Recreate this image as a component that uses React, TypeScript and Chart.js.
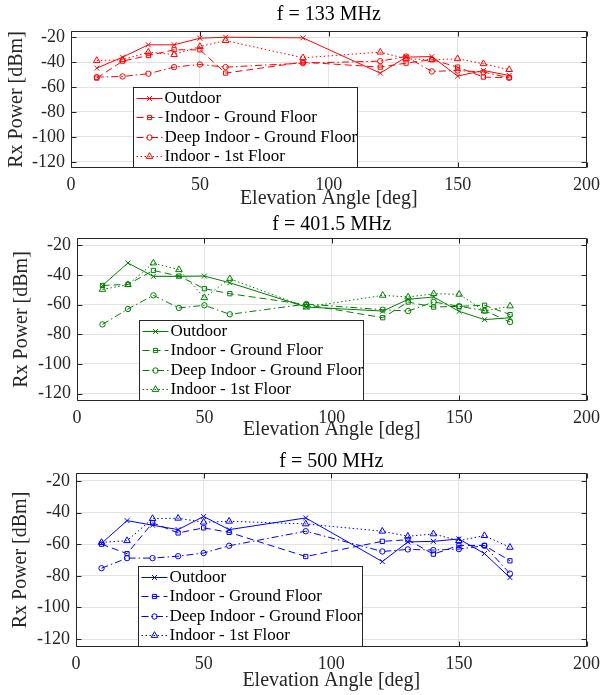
import React, { useEffect, useRef } from 'react';
import { Chart, registerables } from 'chart.js';

Chart.register(...registerables);

// ---------------- data ----------------
const angles = [10, 20, 30, 40, 50, 60, 90, 120, 130, 140, 150, 160, 170];
const xTicks = [0, 50, 100, 150, 200];
const yTicks = [-120, -100, -80, -60, -40, -20];
const seriesNames = ['Outdoor', 'Indoor - Ground Floor', 'Deep Indoor - Ground Floor', 'Indoor - 1st Floor'];
const panelTitles = ['f = 133 MHz', 'f = 401.5 MHz', 'f = 500 MHz'];

const outdoor133 = [-44.8, -36, -26.1, -26.1, -20.8, -20, -20.5, -48.8, -36, -35.5, -51.2, -46.7, -50.7];
const indoorGF133 = [-52.8, -39.2, -34.7, -30.1, -30.1, -48.8, -40, -44, -40.8, -38, -44, -52, -52.5];
const deepIndoor133 = [-52, -51.5, -49.3, -44, -41.9, -44, -40.8, -39.2, -35.5, -47.5, -46.7, -48, -52.5];
const firstFloor133 = [-38.7, -38.1, -32, -33.9, -27.5, -22.7, -36.5, -32, -37.3, -38.1, -37.3, -41.3, -46];

const outdoor401 = [-47, -31.9, -40.9, -40.9, -40.7, -45.2, -61.6, -64.3, -56.4, -54.8, -64.5, -70.1, -68.8];
const indoorGF401 = [-47, -46.3, -36.9, -40.7, -49.2, -52.6, -60, -68.8, -58.2, -61.6, -61.1, -60.4, -66.7];
const deepIndoor401 = [-73.3, -62.9, -53.7, -62.2, -60.4, -66.5, -59.6, -63.4, -64.3, -58.2, -61.1, -64, -71.7];
const firstFloor401 = [-49.7, -46.5, -31.9, -36.4, -55.3, -42.5, -61.6, -53.7, -54.8, -52.6, -53, -64.3, -60.9];

const outdoor500 = [-59.5, -45.1, -48, -50.8, -42.5, -50.8, -43.4, -71, -58.6, -58.2, -56.7, -65.9, -81.1];
const indoorGF500 = [-60, -66, -46.5, -52.9, -49.7, -52.5, -67.8, -58.2, -57.2, -66.3, -60.8, -60.8, -70.5];
const deepIndoor500 = [-75.2, -68.8, -68.8, -67.6, -65.6, -61, -51.8, -64.6, -63.3, -63.7, -63.1, -61, -78.6];
const firstFloor500 = [-58.9, -57.8, -43.8, -43.6, -46.1, -45.5, -47.2, -51.8, -55, -53.5, -57.8, -54.6, -62];

// ---------------- styles ----------------
const FONT = "'Liberation Serif', 'Times New Roman', serif";
const AXIS_COLOR = '#262626';
const GRID_COLOR = '#e3e3e3';
const lineDashes: number[][] = [[], [7, 4], [7, 3, 1.5, 3], [1.5, 2.5]];
const markerStyles = ['crossRot', 'rect', 'circle', 'triangle'];
const markerRadii = [3.5, 3, 2.7, 3.8];

type PanelLayout = {
  top: number; height: number; left: number; right: number; areaTop: number; areaBottom: number;
  titlePadTop: number; yTitlePad: number;
};

const panels = [
  { color: '#ff0000', series: [outdoor133, indoorGF133, deepIndoor133, firstFloor133],
    layout: { top: 0, height: 211, left: 71, right: 587, areaTop: 31, areaBottom: 168, titlePadTop: 5, yTitlePad: 5 } },
  { color: '#008000', series: [outdoor401, indoorGF401, deepIndoor401, firstFloor401],
    layout: { top: 211, height: 231, left: 77, right: 590, areaTop: 27, areaBottom: 190, titlePadTop: 4, yTitlePad: 9.5 } },
  { color: '#0000ff', series: [outdoor500, indoorGF500, deepIndoor500, firstFloor500],
    layout: { top: 445, height: 248, left: 76, right: 590, areaTop: 28, areaBottom: 202, titlePadTop: 7, yTitlePad: 9 } },
];

function drawMarker(ctx: CanvasRenderingContext2D, style: string, x: number, y: number, r: number) {
  ctx.beginPath();
  if (style === 'crossRot') {
    const o = r * Math.SQRT1_2;
    ctx.moveTo(x - o, y - o); ctx.lineTo(x + o, y + o);
    ctx.moveTo(x - o, y + o); ctx.lineTo(x + o, y - o);
  } else if (style === 'rect') {
    const s = r * Math.SQRT1_2;
    ctx.rect(x - s, y - s, 2 * s, 2 * s);
  } else if (style === 'circle') {
    ctx.arc(x, y, r, 0, Math.PI * 2);
  } else if (style === 'triangle') {
    for (let k = 0; k < 3; k++) {
      const a = (k * 2 * Math.PI) / 3;
      const px = x + Math.sin(a) * r;
      const py = y - Math.cos(a) * r;
      if (k === 0) ctx.moveTo(px, py); else ctx.lineTo(px, py);
    }
    ctx.closePath();
  }
  ctx.stroke();
}

const frameAndLegend = {
  id: 'frameAndLegend',
  beforeDatasetsDraw(chart: any) {
    const { ctx, chartArea: a, scales } = chart;
    ctx.save();
    ctx.strokeStyle = AXIS_COLOR;
    ctx.lineWidth = 1;
    ctx.setLineDash([]);
    const L = Math.round(a.left) + 0.5, R = Math.round(a.right) - 0.5;
    const T = Math.round(a.top) + 0.5, B = Math.round(a.bottom) - 0.5;
    ctx.beginPath();
    ctx.rect(L, T, R - L, B - T);
    const tl = 5;
    xTicks.forEach((v) => {
      const px = Math.round(scales.x.getPixelForValue(v)) + 0.5;
      ctx.moveTo(px, B); ctx.lineTo(px, B - tl);
      ctx.moveTo(px, T); ctx.lineTo(px, T + tl);
    });
    yTicks.forEach((v) => {
      const py = Math.round(scales.y.getPixelForValue(v)) + 0.5;
      ctx.moveTo(L, py); ctx.lineTo(L + tl, py);
      ctx.moveTo(R, py); ctx.lineTo(R - tl, py);
    });
    ctx.stroke();
    ctx.restore();
  },
  afterDatasetsDraw(chart: any) {
    const { ctx, chartArea: a } = chart;
    const w = 224, h = 80;
    const x0 = Math.round(a.left + 62) + 0.5;
    const y0 = Math.round(a.bottom - 1 - h) + 0.5;
    ctx.save();
    ctx.fillStyle = '#ffffff';
    ctx.fillRect(x0, y0, w, h);
    ctx.strokeStyle = AXIS_COLOR;
    ctx.lineWidth = 1;
    ctx.setLineDash([]);
    ctx.strokeRect(x0, y0, w, h);
    chart.data.datasets.forEach((ds: any, i: number) => {
      const ry = Math.round(y0 + 10.5 + i * 19.3) + 0.5;
      ctx.strokeStyle = ds.borderColor;
      ctx.lineWidth = 1;
      ctx.setLineDash(ds.borderDash || []);
      ctx.beginPath();
      ctx.moveTo(x0 + 3, ry);
      ctx.lineTo(x0 + 29, ry);
      ctx.stroke();
      ctx.setLineDash([]);
      drawMarker(ctx, ds.pointStyle, x0 + 16, ry, ds.pointRadius);
      ctx.fillStyle = '#000000';
      ctx.font = `17px ${FONT}`;
      ctx.textBaseline = 'middle';
      ctx.textAlign = 'left';
      ctx.fillText(ds.label, x0 + 31, ry);
    });
    ctx.restore();
  },
};

function Panel({ index }: { index: number }) {
  const ref = useRef<HTMLCanvasElement>(null);
  const p = panels[index];
  const lay: PanelLayout = p.layout;
  useEffect(() => {
    if (!ref.current) return;
    const datasets = p.series.map((vals, i) => ({
      label: seriesNames[i],
      data: angles.map((a, k) => ({ x: a, y: vals[k] })),
      borderColor: p.color,
      backgroundColor: 'rgba(0,0,0,0)',
      borderWidth: 1,
      borderDash: lineDashes[i],
      pointStyle: markerStyles[i],
      pointRadius: markerRadii[i],
      pointHoverRadius: markerRadii[i],
      pointBorderWidth: 1,
      pointBorderColor: p.color,
      pointBackgroundColor: 'rgba(0,0,0,0)',
      tension: 0,
      fill: false,
    }));
    const chart = new Chart(ref.current, {
      type: 'line',
      data: { datasets },
      plugins: [frameAndLegend],
      options: {
        animation: false,
        responsive: false,
        devicePixelRatio: 1,
        events: [],
        layout: { padding: { left: 0, top: 0, bottom: 0, right: 606 - lay.right } },
        plugins: {
          legend: { display: false },
          tooltip: { enabled: false },
          title: {
            display: true,
            text: panelTitles[index],
            fullSize: false,
            color: '#000000',
            font: { family: FONT, size: 20, weight: 'normal', lineHeight: 1 },
            padding: { top: lay.titlePadTop, bottom: lay.areaTop - 20 - lay.titlePadTop },
          },
        },
        scales: {
          x: {
            type: 'linear',
            min: 0,
            max: 200,
            afterBuildTicks: (s: any) => { s.ticks = xTicks.map((v) => ({ value: v })); },
            afterFit: (s: any) => { s.height = lay.height - lay.areaBottom; },
            ticks: { color: AXIS_COLOR, padding: 6, maxRotation: 0, font: { family: FONT, size: 18 } },
            grid: { color: GRID_COLOR, lineWidth: 1, drawTicks: false },
            border: { display: false },
            title: {
              display: true,
              text: 'Elevation Angle [deg]',
              color: AXIS_COLOR,
              padding: { top: 0, bottom: 0 },
              font: { family: FONT, size: 20 },
            },
          },
          y: {
            type: 'linear',
            min: -125,
            max: -15,
            afterBuildTicks: (s: any) => { s.ticks = yTicks.map((v) => ({ value: v })); },
            afterFit: (s: any) => { s.width = lay.left; },
            ticks: { color: AXIS_COLOR, padding: 6, font: { family: FONT, size: 18 } },
            grid: { color: GRID_COLOR, lineWidth: 1, drawTicks: false },
            border: { display: false },
            title: {
              display: true,
              text: 'Rx Power [dBm]',
              color: AXIS_COLOR,
              padding: { top: lay.yTitlePad, bottom: 0 },
              font: { family: FONT, size: 20 },
            },
          },
        },
      } as any,
    });
    return () => chart.destroy();
  }, []);
  return (
    <canvas
      ref={ref}
      width={606}
      height={lay.height}
      style={{ position: 'absolute', left: 0, top: lay.top, width: 606, height: lay.height, display: 'block' }}
    />
  );
}

export default function App() {
  return (
    <div style={{ position: 'absolute', left: 0, top: 0, width: 606, height: 695, background: '#ffffff' }}>
      <Panel index={0} />
      <Panel index={1} />
      <Panel index={2} />
    </div>
  );
}
